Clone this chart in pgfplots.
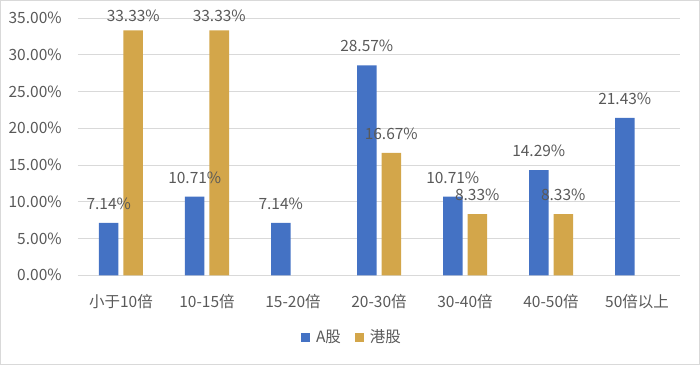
\documentclass[border=0pt]{standalone}
\usepackage{pgfplots}
\pgfplotsset{compat=1.18}
\usepackage{fontspec}
\setmainfont{Noto Sans CJK SC}
\definecolor{cA}{HTML}{4472C4}
\definecolor{cH}{HTML}{D3A64A}
\definecolor{txt}{HTML}{595959}
\definecolor{grd}{HTML}{D9D9D9}
\newcommand{\fs}{\fontsize{15.5bp}{17bp}\selectfont}
\begin{document}
\fs
\begin{tikzpicture}
\begin{axis}[
  at={(0,0)}, anchor=south west,
  scale only axis, width=602bp, height=257.3bp,
  ybar=5bp, bar width=19.5bp,
  xmin=-0.5, xmax=6.5, ymin=0, ymax=35,
  xtick={0,...,6},
  xticklabels={小于10倍,10-15倍,15-20倍,20-30倍,30-40倍,40-50倍,50倍以上},
  ytick={0,5,...,35},
  yticklabel={\pgfmathprintnumber[fixed,fixed zerofill,precision=2]{\tick}\%},
  /pgf/number format/assume math mode=true,
  major tick length=0pt,
  axis line style={draw=none},
  ymajorgrids, grid style={grd, line width=0.9bp},
  tick label style={text=txt, font=\fs},
  yticklabel style={xshift=-11bp},
  xticklabel style={yshift=-14bp},
  clip=false,
  visualization depends on={y \as \rawy},
  nodes near coords={\pgfmathprintnumber[fixed,fixed zerofill,precision=2]{\pgfplotspointmeta}\%},
  nodes near coords style={text=txt, anchor=center, yshift={(\rawy>30)?14bp:19bp}, font=\fs},
  legend style={at={(0.5,0)}, anchor=center, yshift=-62bp, xshift=-27bp, draw=none, fill=none,
    legend columns=2, font=\fs, text=txt,
    /tikz/every even column/.append style={column sep=12bp}},
  legend image code/.code={\fill[#1] (0bp,-4.5bp) rectangle (9bp,4.5bp); \path (13bp,0bp);},
]
\addplot[fill=cA, draw=none] coordinates {(0,7.14) (1,10.71) (2,7.14) (3,28.57) (4,10.71) (5,14.29) (6,21.43)};
\addplot[fill=cH, draw=none] coordinates {(0,33.33) (1,33.33) (3,16.67) (4,8.33) (5,8.33)};
\legend{A股,港股}
\end{axis}
\draw[grd, line width=1bp] (-77.5bp,-89.5bp) rectangle (621.5bp,274.8bp);
\useasboundingbox (-78bp,-90bp) rectangle (622bp,275.3bp);
\end{tikzpicture}
\end{document}
